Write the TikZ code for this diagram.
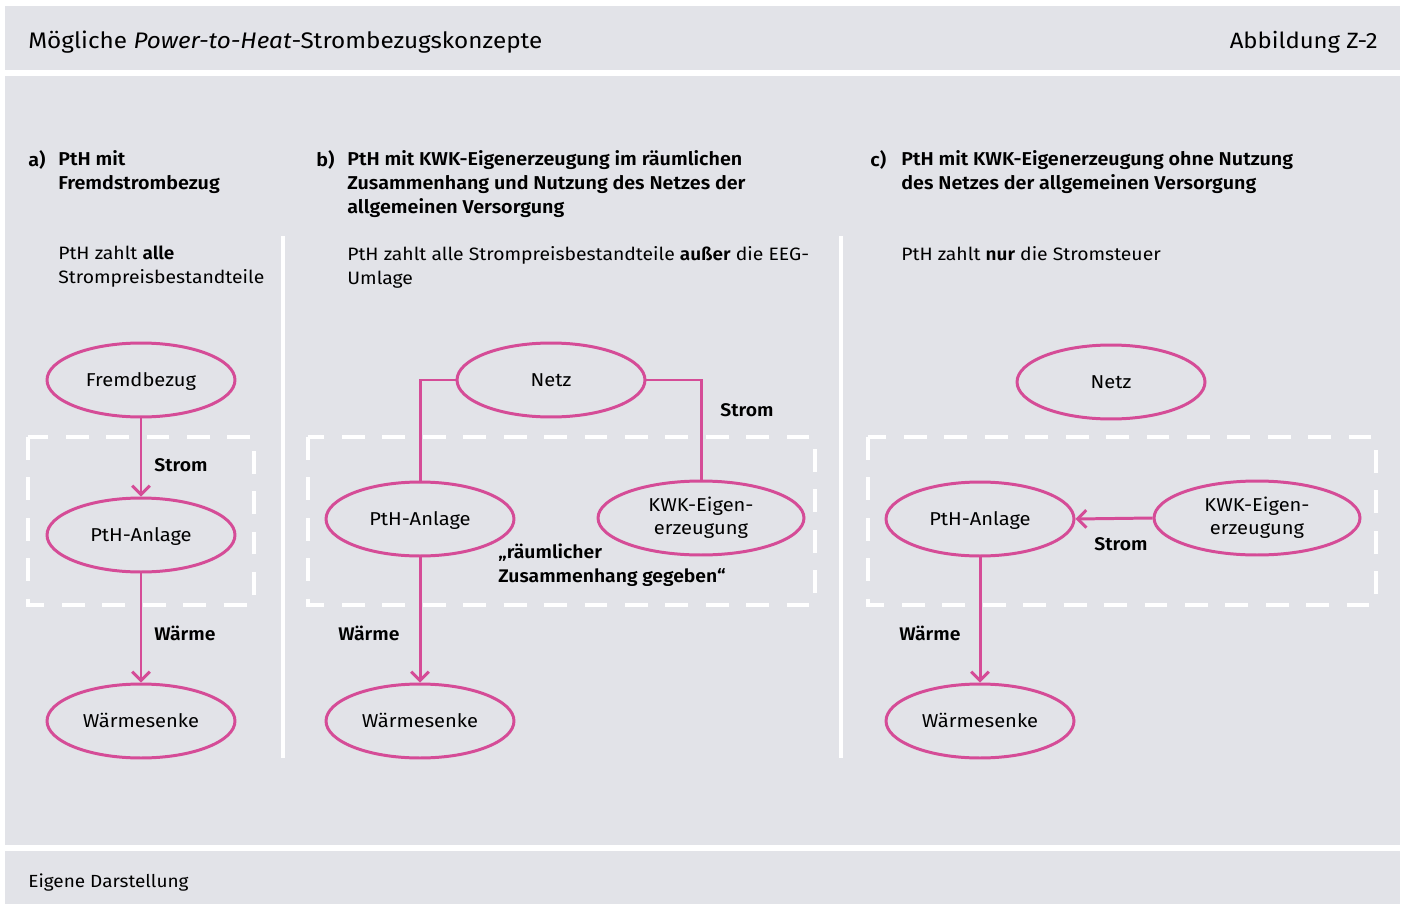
\documentclass[tikz,border=0pt]{standalone}
\usepackage{fontspec}
\setmainfont{Fira Sans}[FakeStretch=1.08, BoldFont={Fira Sans SemiBold}, BoldFeatures={FakeStretch=1.06}]
\usetikzlibrary{shapes.geometric,arrows.meta,positioning}
\definecolor{panelgrey}{HTML}{E2E3E8}
\definecolor{ptpink}{HTML}{D54C97}

\begin{document}
\begin{tikzpicture}[
    x=0.02cm, y=-0.02cm,
    ovalbase/.style={ellipse, draw=ptpink, line width=1.7pt, minimum width=3.76cm, minimum height=1.48cm,
                 inner sep=0pt, align=center, font=\fontsize{10.6}{13}\selectfont},
    oval/.style={ovalbase, text height=1.32ex, text depth=0pt},
    oval wide/.style={ovalbase, minimum width=4.12cm},
    link/.style={draw=ptpink, line width=1.7pt},
    flow/.style={link, -{Straight Barb[length=5pt,width=10pt,line width=1.7pt]}},
    tag/.style={font=\fontsize{10.4}{13.6}\selectfont\bfseries, inner sep=0pt, anchor=west, align=left},
    frame/.style={draw=white, line width=2.8pt, dash pattern=on 13pt off 10pt},
    txt/.style={font=\fontsize{10.2}{13.6}\selectfont, align=left, inner sep=0pt, anchor=north west},
    head/.style={txt, font=\fontsize{10.6}{13.6}\selectfont\bfseries}
    ]
  \useasboundingbox (0,0) rectangle (1405,905);
  \fill[white] (0,0) rectangle (1405,905);

  % panels
  \fill[panelgrey] (5,6) rectangle (1400,70);
  \fill[panelgrey] (5,76) rectangle (1400,845);
  \fill[panelgrey] (5,851) rectangle (1400,904);

  \node[anchor=west, inner sep=0pt, font=\fontsize{12.8}{15}\selectfont] (title) at (28,42)
    {Mögliche \textit{Power-to-Heat}-Strombezugskonzepte};
  \node[anchor=east, inner sep=0pt, font=\fontsize{12.6}{15}\selectfont] (fignum) at (1378,42)
    {Abbildung Z-2};
  \node[anchor=west, inner sep=0pt, font=\fontsize{10}{12}\selectfont] (source) at (28,883)
    {Eigene Darstellung};

  % separators
  \draw[white, line width=2.3pt] (283,236) -- (283,758);
  \draw[white, line width=2.3pt] (841,236) -- (841,758);

  % dashed boundaries
  \draw[frame] (28,437) rectangle (254,605);
  \draw[frame] (308,437) rectangle (815,605);
  \draw[frame] (868,437) rectangle (1376,605);

  % headings
  \node[head] (labela) at (28,150) {a)};
  \node[head] (heada) at (58,150) {PtH mit\\Fremdstrombezug};
  \node[head] (labelb) at (316,150) {b)};
  \node[head] (headb) at (347,150) {PtH mit KWK-Eigenerzeugung im räumlichen\\Zusammenhang und Nutzung des Netzes der\\allgemeinen Versorgung};
  \node[head] (labelc) at (870,150) {c)};
  \node[head] (headc) at (901,150) {PtH mit KWK-Eigenerzeugung ohne Nutzung\\des Netzes der allgemeinen Versorgung};

  \node[txt] (costa) at (58,246) {PtH zahlt \textbf{alle}\\Strompreisbestandteile};
  \node[txt] (costb) at (347,246) {PtH zahlt alle Strompreisbestandteile \textbf{außer} die EEG-\\Umlage};
  \node[txt] (costc) at (901,246) {PtH zahlt \textbf{nur} die Stromsteuer};

  % a) Fremdbezug
  \node[oval] (fremd) at (141,380) {Fremdbezug};
  \node[oval] (ptha) at (141,535) {PtH-Anlage};
  \node[oval] (senkea) at (141,721) {Wärmesenke};
  \draw[flow] (fremd) -- (ptha);
  \draw[flow] (ptha) -- (senkea);
  \node[tag] (stroma) at (154,465) {Strom};
  \node[tag] (waermea) at (154,633) {Wärme};

  % b) KWK mit Netz
  \node[oval] (netzb) at (551,380) {Netz};
  \node[oval] (pthb) at (420,519) {PtH-Anlage};
  \node[oval wide] (kwkb) at (701,518) {KWK-Eigen-\\erzeugung};
  \node[oval] (senkeb) at (420,721) {Wärmesenke};
  \draw[link] (netzb.west) -| (pthb.north);
  \draw[link] (netzb.east) -| (kwkb.north);
  \draw[flow] (pthb) -- (senkeb);
  \node[tag] (stromb) at (720,410) {Strom};
  \node[tag] (waermeb) at (338,633) {Wärme};
  \node[tag] (raum) at (498,565) {„räumlicher\\Zusammenhang gegeben“};

  % c) KWK ohne Netz
  \node[oval] (netzc) at (1111,382) {Netz};
  \node[oval] (pthc) at (980,519) {PtH-Anlage};
  \node[oval wide] (kwkc) at (1257,518) {KWK-Eigen-\\erzeugung};
  \node[oval] (senkec) at (980,721) {Wärmesenke};
  \draw[flow] (kwkc.west) -- (pthc.east);
  \draw[flow] (pthc) -- (senkec);
  \node[tag] (stromc) at (1094,544) {Strom};
  \node[tag] (waermec) at (899,633) {Wärme};
\end{tikzpicture}
\end{document}
